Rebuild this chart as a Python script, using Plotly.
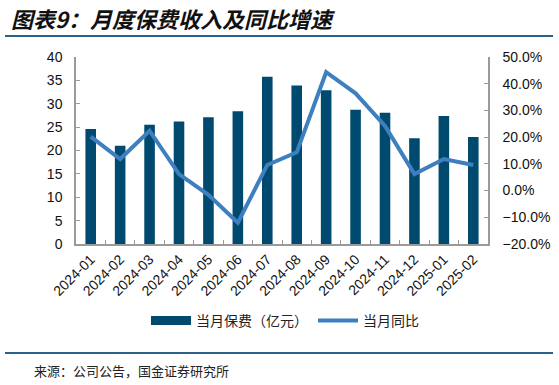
import plotly.graph_objects as go

categories = ["2024-01", "2024-02", "2024-03", "2024-04", "2024-05", "2024-06", "2024-07",
              "2024-08", "2024-09", "2024-10", "2024-11", "2024-12", "2025-01", "2025-02"]
premium = [24.6, 21.0, 25.5, 26.2, 27.1, 28.4, 35.8, 33.9, 32.9, 28.7, 28.1, 22.6, 27.4, 22.9]
yoy = [0.202, 0.118, 0.224, 0.062, -0.016, -0.120, 0.096, 0.143, 0.443, 0.364, 0.242, 0.062, 0.118, 0.096]

bar_name = "当月保费（亿元）"
line_name = "当月同比"
title = "图表9：月度保费收入及同比增速"
source = "来源：公司公告，国金证券研究所"

BAR_C = "#004a70"
LINE_C = "#3e7fc0"
AX_C = "#9a9a9a"
FONT = "Noto Sans CJK SC, Liberation Sans, Arial, sans-serif"
NUMF = "Liberation Sans, Arial, sans-serif"

L, R, T, B = 76, 71, 57, 141
W, H = 559, 385
plot_w = W - L - R
plot_h = H - T - B
def px_x(px):
    return (px - L) / plot_w
def px_y(py):
    return (H - B - py) / plot_h

fig = go.Figure()
fig.add_trace(go.Bar(x=categories, y=premium, name=bar_name, marker_color=BAR_C,
                     marker_line_width=0, showlegend=False, yaxis="y"))
# legend swatch for bars (long rectangle like the reference)
fig.add_trace(go.Scatter(x=[None], y=[None], mode="lines", name=bar_name,
                         line=dict(color=BAR_C, width=9), yaxis="y"))
fig.add_trace(go.Scatter(x=categories, y=yoy, mode="lines", name=line_name,
                         line=dict(color=LINE_C, width=4), yaxis="y2"))

fig.update_layout(
    width=W, height=H,
    margin=dict(l=L, r=R, t=T, b=B, autoexpand=False),
    paper_bgcolor="white", plot_bgcolor="white",
    font=dict(family=FONT, size=13, color="#111"),
    bargap=0.64,
    showlegend=True,
    legend=dict(orientation="h", x=px_x(146), xanchor="left", y=px_y(321), yanchor="middle",
                font=dict(size=14, color="#222"), traceorder="normal",
                bgcolor="rgba(0,0,0,0)", itemwidth=40),
    xaxis=dict(type="category", showline=True, linecolor=AX_C, linewidth=1.5,
               ticks="inside", tickcolor=AX_C, ticklen=4, tickson="boundaries",
               tickangle=-45, tickfont=dict(size=14, family=NUMF, color="#111"),
               showgrid=False, zeroline=False, automargin=False),
    yaxis=dict(range=[0, 40], dtick=5, showline=True, linecolor=AX_C, linewidth=1.5,
               ticks="inside", tickcolor=AX_C, ticklen=4, showgrid=False, zeroline=False,
               tickfont=dict(size=14, family=NUMF, color="#111"), automargin=False,
               ticklabelstandoff=9),
    yaxis2=dict(range=[-0.2, 0.5], dtick=0.1, tickformat=".1%", overlaying="y", side="right",
                showline=True, linecolor=AX_C, linewidth=1.5, ticks="inside", tickcolor=AX_C,
                ticklen=4, showgrid=False, zeroline=False,
                tickfont=dict(size=14, family=NUMF, color="#111"), automargin=False,
                ticklabelstandoff=10),
    annotations=[
        dict(text="<b><i>" + title + "</i></b>", x=px_x(9), y=px_y(18), xref="paper", yref="paper",
             showarrow=False, xanchor="left", yanchor="middle",
             font=dict(size=22, color="#111", family=FONT)),
        dict(text=source, x=px_x(32), y=px_y(370), xref="paper", yref="paper",
             showarrow=False, xanchor="left", yanchor="middle",
             font=dict(size=13, color="#222", family=FONT)),
    ],
    shapes=[
        dict(type="line", xref="paper", yref="paper", x0=px_x(5), x1=px_x(553),
             y0=px_y(36), y1=px_y(36), line=dict(color="#2a628c", width=2)),
        dict(type="line", xref="paper", yref="paper", x0=px_x(5), x1=px_x(553),
             y0=px_y(353), y1=px_y(353), line=dict(color="#2a628c", width=2)),
    ],
)

fig.write_html("out.html", config={"displayModeBar": False},
               post_script="document.body.style.margin='0';document.body.style.overflow='hidden';")
